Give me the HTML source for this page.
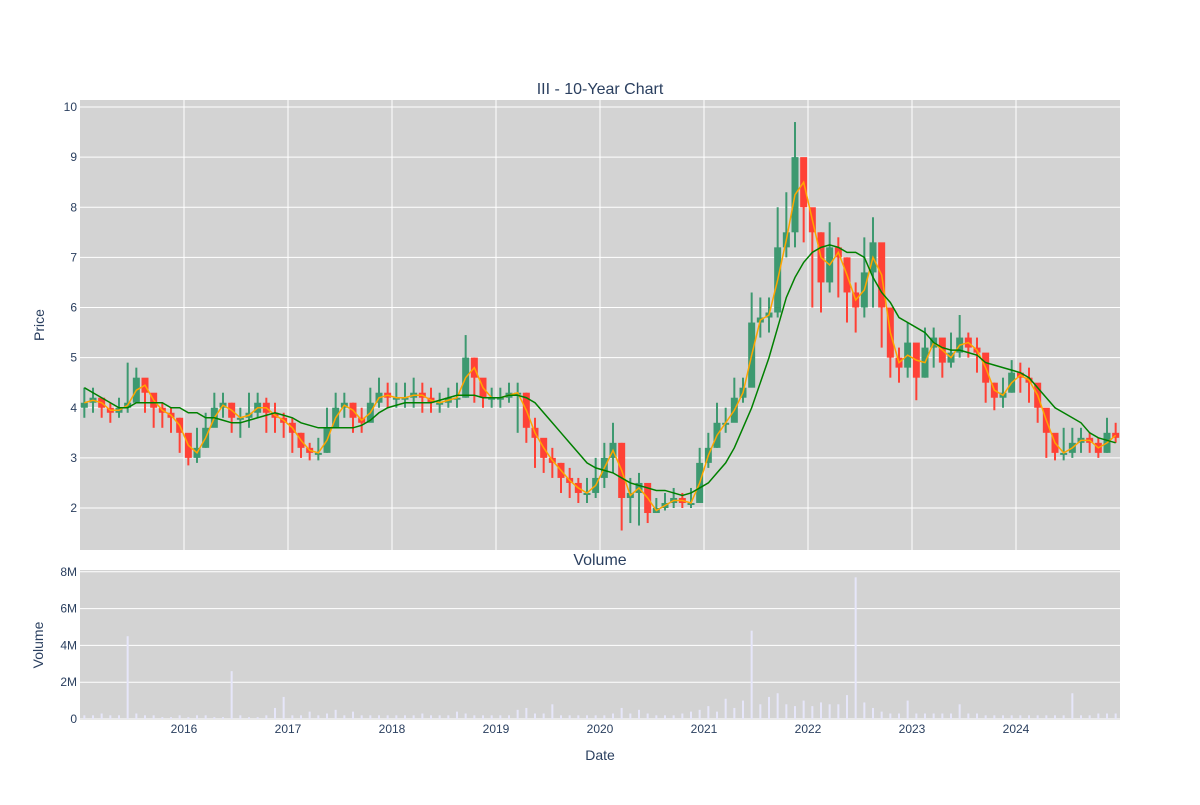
<!DOCTYPE html>
<html><head><meta charset="utf-8"><style>
body{margin:0;background:#fff;font-family:"Liberation Sans",sans-serif;}
svg text{font-family:"Liberation Sans",sans-serif;fill:#2a3f5f;}
</style></head><body>
<svg id="chart" width="1200" height="800" xmlns="http://www.w3.org/2000/svg">
<rect width="1200" height="800" fill="#fff"/>
<text x="600" y="94" text-anchor="middle" font-size="16">III - 10-Year Chart</text>
<text x="600" y="565" text-anchor="middle" font-size="16">Volume</text>
<text transform="translate(44,325) rotate(-90)" text-anchor="middle" font-size="14">Price</text>
<text transform="translate(43,645) rotate(-90)" text-anchor="middle" font-size="14">Volume</text>
<text x="600" y="760" text-anchor="middle" font-size="14">Date</text>
<rect x="80" y="100" width="1040" height="450" fill="#d3d3d3"/>
<rect x="80" y="570" width="1040" height="150" fill="#d3d3d3"/>
<g id="grid"></g><g id="marks"></g><g id="labels"></g>
</svg>
<script>
const years=[2016,2017,2018,2019,2020,2021,2022,2023,2024];
const priceTicks=[2,3,4,5,6,7,8,9,10];
const volTicks=[0,2,4,6,8];
const volTickLabels=["0","2M","4M","6M","8M"];
const closes=[4.1,4.2,4.0,3.9,4.0,4.1,4.6,4.3,4.0,3.9,3.8,3.5,
3.0,3.2,3.6,4.0,4.1,3.8,3.8,3.9,4.1,3.9,3.8,3.7,
3.5,3.2,3.1,3.1,3.6,4.0,4.1,3.8,3.7,4.1,4.3,4.2,
4.2,4.2,4.3,4.2,4.1,4.1,4.2,4.2,5.0,4.6,4.2,4.2,
4.2,4.3,4.3,3.6,3.4,3.0,2.9,2.6,2.5,2.3,2.3,2.6,
3.0,3.3,2.2,2.3,2.5,1.9,2.0,2.1,2.2,2.1,2.1,2.9,
3.2,3.7,3.7,4.2,4.4,5.7,5.8,5.9,7.2,7.5,9.0,8.0,
7.5,6.5,7.2,7.0,6.3,6.0,6.7,7.3,6.0,5.0,4.8,5.3,
4.6,5.2,5.4,4.9,5.1,5.4,5.2,5.1,4.5,4.2,4.3,4.7,
4.6,4.5,4.0,3.5,3.1,3.1,3.3,3.4,3.3,3.1,3.5,3.4];
const highs=[4.4,4.4,4.2,4.1,4.2,4.9,4.8,4.5,4.2,4.1,4.0,3.8,
3.4,3.6,3.9,4.3,4.3,4.1,4.0,4.3,4.3,4.2,4.1,3.9,
3.8,3.5,3.3,3.4,4.0,4.3,4.3,4.1,4.0,4.4,4.6,4.5,
4.5,4.5,4.6,4.5,4.4,4.3,4.4,4.5,5.45,5.0,4.5,4.4,
4.4,4.5,4.5,4.3,3.8,3.3,3.2,2.9,2.8,2.6,2.6,3.0,
3.3,3.7,3.3,2.6,2.7,2.4,2.2,2.3,2.4,2.3,2.4,3.2,
3.5,4.1,4.0,4.6,4.6,6.3,6.2,6.2,8.0,8.3,9.7,8.7,
7.8,7.5,7.7,7.4,7.0,6.5,7.4,7.8,6.8,5.7,5.2,5.7,
5.2,5.6,5.6,5.3,5.5,5.85,5.5,5.4,5.0,4.5,4.6,4.95,
4.9,4.8,4.3,3.9,3.4,3.6,3.6,3.6,3.5,3.4,3.8,3.7];
const lows=[3.8,3.9,3.8,3.7,3.8,3.9,4.2,3.9,3.6,3.6,3.5,3.1,
2.85,2.9,3.2,3.7,3.8,3.5,3.4,3.6,3.8,3.5,3.5,3.4,
3.1,3.0,2.95,2.95,3.1,3.6,3.8,3.5,3.5,3.8,4.0,4.0,
4.0,4.0,4.0,3.9,3.9,3.9,4.0,4.0,4.2,4.1,4.0,4.0,
4.0,4.1,3.5,3.3,2.8,2.7,2.6,2.3,2.2,2.1,2.1,2.2,
2.4,2.7,1.55,1.7,1.65,1.7,1.9,1.95,2.0,2.0,2.0,2.2,
2.8,3.2,3.5,3.8,4.1,5.0,5.4,5.5,5.8,7.0,7.2,7.3,
6.0,5.9,6.3,6.2,5.7,5.5,5.8,6.0,5.2,4.6,4.5,4.6,
4.15,4.6,4.8,4.6,4.8,5.0,5.0,4.7,4.1,3.95,4.0,4.3,
4.3,4.1,3.7,3.0,2.95,2.95,3.0,3.1,3.1,3.0,3.1,3.3];
const ma200=[4.4,4.3,4.2,4.1,4.0,4.0,4.1,4.1,4.1,4.1,4.0,4.0,
3.9,3.9,3.8,3.8,3.75,3.7,3.7,3.75,3.8,3.85,3.9,3.85,
3.8,3.7,3.65,3.6,3.6,3.6,3.6,3.6,3.65,3.75,3.9,4.0,
4.05,4.1,4.1,4.1,4.1,4.15,4.2,4.25,4.25,4.25,4.2,4.2,
4.2,4.25,4.25,4.2,4.1,3.9,3.7,3.5,3.3,3.1,2.9,2.8,
2.75,2.7,2.6,2.5,2.45,2.4,2.35,2.35,2.3,2.25,2.3,2.4,
2.5,2.7,2.9,3.2,3.6,4.0,4.5,5.0,5.6,6.2,6.6,6.9,
7.1,7.2,7.25,7.2,7.1,7.1,7.0,6.6,6.3,6.1,5.8,5.7,
5.6,5.5,5.3,5.2,5.15,5.15,5.1,5.05,4.9,4.85,4.8,4.75,
4.7,4.6,4.4,4.2,4.0,3.9,3.8,3.7,3.5,3.4,3.35,3.3];
const volumes=[0.2,0.2,0.3,0.2,0.2,4.5,0.3,0.2,0.2,0.1,0.1,0.2,
0.1,0.2,0.2,0.1,0.1,2.6,0.2,0.1,0.1,0.2,0.6,1.2,
0.2,0.2,0.4,0.2,0.3,0.5,0.2,0.4,0.2,0.2,0.2,0.2,
0.2,0.2,0.2,0.3,0.2,0.2,0.2,0.4,0.3,0.2,0.2,0.2,
0.2,0.2,0.5,0.6,0.3,0.3,0.8,0.2,0.2,0.2,0.2,0.2,
0.2,0.3,0.6,0.3,0.5,0.3,0.2,0.2,0.2,0.3,0.4,0.5,
0.7,0.4,1.1,0.6,1.0,4.8,0.8,1.2,1.4,0.8,0.7,1.0,
0.7,0.9,0.8,0.8,1.3,7.7,0.9,0.6,0.4,0.3,0.3,1.0,
0.3,0.3,0.3,0.3,0.3,0.8,0.3,0.3,0.2,0.2,0.2,0.2,
0.2,0.2,0.2,0.2,0.2,0.2,1.4,0.2,0.2,0.3,0.3,0.3];
const NS="http://www.w3.org/2000/svg";
const x0=80,x1=1120,t0=2015.0,t1=2025.0;
const X=t=>x0+(t-t0)/(t1-t0)*(x1-x0);
const Y=v=>508-(v-2)*50.125;
const VY=m=>719-m*18.4;
const tm=i=>t0+(i+0.5)/12;
function mk(tag,attrs,parent){const e=document.createElementNS(NS,tag);for(const k in attrs)e.setAttribute(k,attrs[k]);parent.appendChild(e);return e;}
const grid=document.getElementById('grid'),marks=document.getElementById('marks'),labels=document.getElementById('labels');
years.forEach(yr=>{
 let l=mk('line',{x1:X(yr),x2:X(yr),y1:100,y2:550,stroke:'#fff','stroke-width':1},grid);
 
 
 let t=mk('text',{x:X(yr),y:733,'text-anchor':'middle','font-size':12},labels);t.textContent=yr;
 
 
});
priceTicks.forEach(v=>{
 let l=mk('line',{x1:80,x2:1120,y1:Y(v),y2:Y(v),stroke:'#fff','stroke-width':1},grid);
 
 
 let t=mk('text',{x:77,y:Y(v)+4,'text-anchor':'end','font-size':12},labels);t.textContent=v;
 
 
});
volTicks.forEach((v,i)=>{
 let l=mk('line',{x1:80,x2:1120,y1:VY(v),y2:VY(v),stroke:'#fff','stroke-width':1},grid);
 
 
 let t=mk('text',{x:77,y:VY(v)+4,'text-anchor':'end','font-size':12},labels);t.textContent=volTickLabels[i];
 
 
});
closes.forEach((c,i)=>{
 const o=i?closes[i-1]:c-0.1;const up=c>=o;const col=up?'#3D9970':'#FF4136';const cx=X(tm(i));
 let g=mk('g',{},marks);
 
 
 mk('line',{x1:cx,x2:cx,y1:Y(highs[i]),y2:Y(lows[i]),stroke:col,'stroke-width':2},g);
 const top=Y(Math.max(o,c)),bot=Y(Math.min(o,c));
 mk('rect',{x:cx-3.5,y:top,width:7,height:Math.max(bot-top,2),fill:col},g);
 let vb=mk('rect',{x:cx-1,y:VY(volumes[i]),width:2,height:719-VY(volumes[i]),fill:'#e6e6fa'},marks);
 
 
});
let p1='',p2='';
closes.forEach((c,i)=>{const s=i?(closes[i-1]+c)/2:c;p1+=(i?'L':'M')+X(tm(i))+','+Y(s);});
ma200.forEach((v,i)=>{p2+=(i?'L':'M')+X(tm(i))+','+Y(v);});
let ma1=mk('path',{d:p1,fill:'none',stroke:'#FFA500','stroke-width':1.5},marks);


let ma2=mk('path',{d:p2,fill:'none',stroke:'#008000','stroke-width':1.5},marks);


</script>
</body></html>
